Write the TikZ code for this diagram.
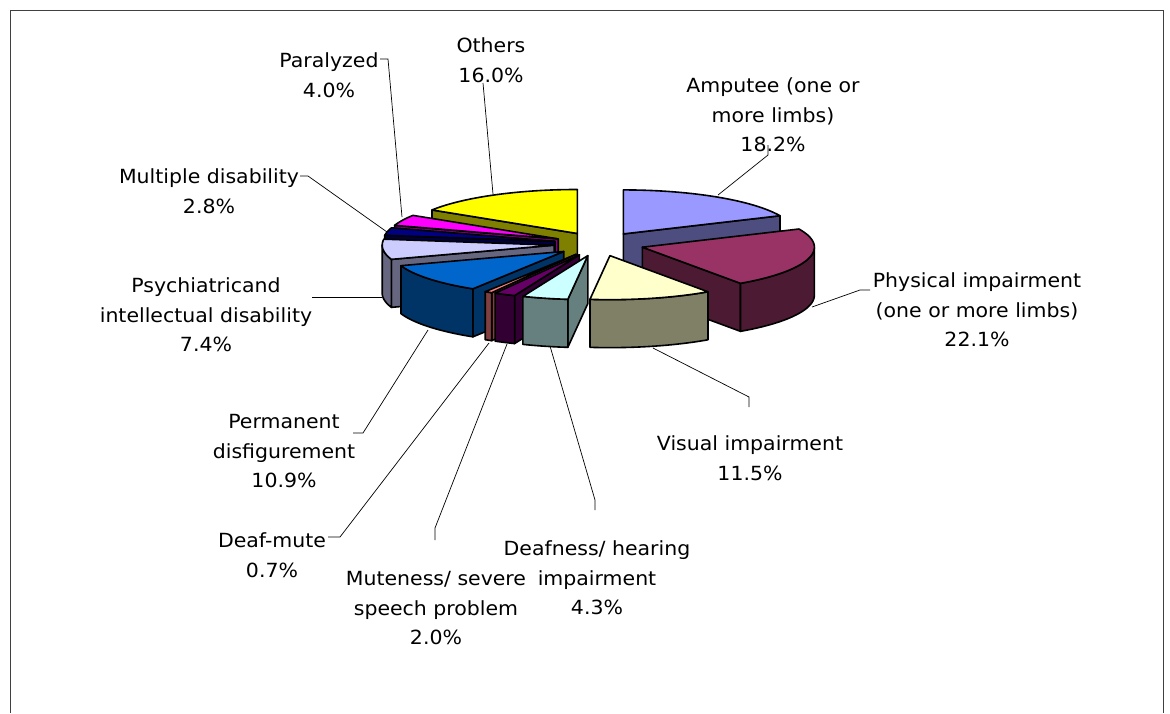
\documentclass[tikz,border=0pt]{standalone}
\usepackage{fontspec}
\setmainfont{DejaVu Sans}[FakeStretch=1.05]
% pie geometry (image pixels, y downward)
\def\PCX{599}\def\PCY{244}\def\PRA{172}\def\PRB{44}\def\PH{48}\def\PEX{45}\def\PEY{12}
\definecolor{tAmp}{HTML}{9999FF}\definecolor{sAmp}{HTML}{4D4D80}
\definecolor{tPhy}{HTML}{993366}\definecolor{sPhy}{HTML}{4D1A33}
\definecolor{tVis}{HTML}{FFFFCC}\definecolor{sVis}{HTML}{808066}
\definecolor{tDea}{HTML}{CCFFFF}\definecolor{sDea}{HTML}{668080}
\definecolor{tMut}{HTML}{660066}\definecolor{sMut}{HTML}{330033}
\definecolor{tDm}{HTML}{FF8080}\definecolor{sDm}{HTML}{804040}
\definecolor{tPer}{HTML}{0066CC}\definecolor{sPer}{HTML}{003366}
\definecolor{tPsy}{HTML}{CCCCFF}\definecolor{sPsy}{HTML}{666680}
\definecolor{tMul}{HTML}{000080}\definecolor{sMul}{HTML}{000040}
\definecolor{tPar}{HTML}{FF00FF}\definecolor{sPar}{HTML}{800080}
\definecolor{tOth}{HTML}{FFFF00}\definecolor{sOth}{HTML}{808000}
\newcommand{\pieslice}[4]{%
  \pgfmathsetmacro{\slm}{(#1+#2)/2}%
  \pgfmathsetmacro{\slx}{\PCX+\PEX*sin(\slm)}%
  \pgfmathsetmacro{\sly}{\PCY-\PEY*cos(\slm)}%
  \pgfmathsetmacro{\sins}{sin(#1)}%
  \pgfmathsetmacro{\sint}{sin(#2)}%
  \pgfmathsetmacro{\uone}{max(#1,90)}%
  \pgfmathsetmacro{\utwo}{min(#2,270)}%
  \ifdim\sins pt<0pt
    \filldraw[face,fill=#4] ({\slx},{\sly}) -- ({\slx+\PRA*sin(#1)},{\sly-\PRB*cos(#1)}) -- ({\slx+\PRA*sin(#1)},{\sly-\PRB*cos(#1)+\PH}) -- ({\slx},{\sly+\PH}) -- cycle;
  \fi
  \ifdim\sint pt>0pt
    \filldraw[face,fill=#4] ({\slx},{\sly}) -- ({\slx+\PRA*sin(#2)},{\sly-\PRB*cos(#2)}) -- ({\slx+\PRA*sin(#2)},{\sly-\PRB*cos(#2)+\PH}) -- ({\slx},{\sly+\PH}) -- cycle;
  \fi
  \ifdim\uone pt<\utwo pt
    \filldraw[face,fill=#4] plot[domain=\uone:\utwo,samples=30] ({\slx+\PRA*sin(\x)},{\sly-\PRB*cos(\x)}) -- plot[domain=\utwo:\uone,samples=30] ({\slx+\PRA*sin(\x)},{\sly-\PRB*cos(\x)+\PH}) -- cycle;
  \fi
  \filldraw[face,fill=#3] ({\slx},{\sly}) -- plot[domain=#1:#2,samples=40] ({\slx+\PRA*sin(\x)},{\sly-\PRB*cos(\x)}) -- cycle;
}
\begin{document}
\begin{tikzpicture}[x=1pt,y=-1pt,
  face/.style={draw=black,line width=1.6pt,line join=round},
  leader/.style={draw=black,line width=0.7pt},
  lbl/.style={anchor=north,inner sep=0pt,align=center,font=\fontsize{19.5}{29.8}\selectfont}]
\useasboundingbox (0,0) rectangle (1170,713);
\draw[line width=1pt,black!75] (10,713) -- (10,10) -- (1163,10) -- (1163,713);
% slices, back to front
\pieslice{302.34}{360}{tOth}{sOth}
\pieslice{0}{65.59}{tAmp}{sAmp}
\pieslice{287.93}{302.34}{tPar}{sPar}
\pieslice{277.84}{287.93}{tMul}{sMul}
\pieslice{251.17}{277.84}{tPsy}{sPsy}
\pieslice{65.59}{145.23}{tPhy}{sPhy}
\pieslice{211.89}{251.17}{tPer}{sPer}
\pieslice{209.37}{211.89}{tDm}{sDm}
\pieslice{202.16}{209.37}{tMut}{sMut}
\pieslice{186.67}{202.16}{tDea}{sDea}
\pieslice{145.23}{186.67}{tVis}{sVis}
% labels
\node[lbl] (lOth) at (491,36) {\rule{0pt}{16pt}Others\\16.0\%};
\node[lbl] (lPar) at (329,51) {\rule{0pt}{16pt}Paralyzed\\4.0\%};
\node[lbl] (lAmp) at (773,76) {\rule{0pt}{16pt}Amputee (one or\\more limbs)\\18.2\%};
\node[lbl] (lMul) at (209,167) {\rule{0pt}{16pt}Multiple disability\\2.8\%};
\node[lbl] (lPhy) at (977,271) {\rule{0pt}{16pt}Physical impairment\\(one or more limbs)\\22.1\%};
\node[lbl] (lPsy) at (206,276) {\rule{0pt}{16pt}Psychiatricand\\intellectual disability\\7.4\%};
\node[lbl] (lPer) at (284,412) {\rule{0pt}{16pt}Permanent\\disfigurement\\10.9\%};
\node[lbl] (lVis) at (750,434) {\rule{0pt}{16pt}Visual impairment\\11.5\%};
\node[lbl] (lDm) at (272,531) {\rule{0pt}{16pt}Deaf-mute\\0.7\%};
\node[lbl] (lMut) at (436,569) {\rule{0pt}{16pt}Muteness/ severe\\speech problem\\2.0\%};
\node[lbl] (lDea) at (597,539) {\rule{0pt}{16pt}Deafness/ hearing\\impairment\\4.3\%};
% leader line points
\coordinate (aOth) at (483,83);  \coordinate (pOth) at (493,194);
\coordinate (aPar) at (380,59);  \coordinate (kPar) at (388,59);  \coordinate (pPar) at (402,217);
\coordinate (aAmp) at (768,145); \coordinate (kAmp) at (768,155); \coordinate (pAmp) at (718,195);
\coordinate (aMul) at (300,176); \coordinate (kMul) at (308,176); \coordinate (pMul) at (387,232);
\coordinate (aPhy) at (870,290); \coordinate (kPhy) at (860,290); \coordinate (pPhy) at (812,307);
\coordinate (aPsy) at (312,297); \coordinate (pPsy) at (382,297);
\coordinate (aPer) at (353,433); \coordinate (kPer) at (363,433); \coordinate (pPer) at (428,330);
\coordinate (aDm) at (328,537);  \coordinate (kDm) at (340,537);  \coordinate (pDm) at (489,343);
\coordinate (aMut) at (435,540); \coordinate (kMut) at (435,528); \coordinate (pMut) at (507,344);
\coordinate (aDea) at (595,510); \coordinate (kDea) at (595,500); \coordinate (pDea) at (550,346);
\coordinate (aVis) at (749,407); \coordinate (kVis) at (749,397); \coordinate (pVis) at (653,348);
\draw[leader] (aOth) -- (pOth);
\draw[leader] (aPar) -- (kPar) -- (pPar);
\draw[leader] (aAmp) -- (kAmp) -- (pAmp);
\draw[leader] (aMul) -- (kMul) -- (pMul);
\draw[leader] (aPhy) -- (kPhy) -- (pPhy);
\draw[leader] (aPsy) -- (pPsy);
\draw[leader] (aPer) -- (kPer) -- (pPer);
\draw[leader] (aDm) -- (kDm) -- (pDm);
\draw[leader] (aMut) -- (kMut) -- (pMut);
\draw[leader] (aDea) -- (kDea) -- (pDea);
\draw[leader] (aVis) -- (kVis) -- (pVis);
\end{tikzpicture}
\end{document}
